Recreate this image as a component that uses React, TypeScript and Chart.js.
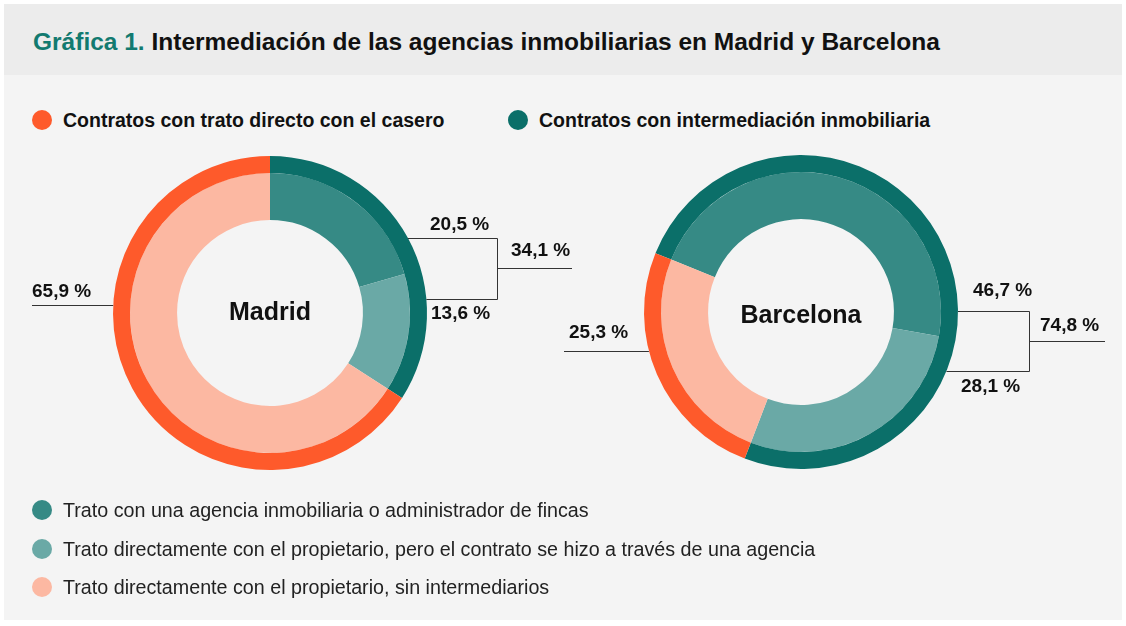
import React, { useEffect, useRef } from "react";
import { Chart, registerables } from "chart.js";

Chart.register(...registerables);

// ---- data ----
const cityNames = ["Madrid", "Barcelona"];
const groupLabels = ["Contratos con intermediación inmobiliaria", "Contratos con trato directo con el casero"];
const detailLabels = [
  "Trato con una agencia inmobiliaria o administrador de fincas",
  "Trato directamente con el propietario, pero el contrato se hizo a través de una agencia",
  "Trato directamente con el propietario, sin intermediarios",
];
const madridGroups = [34.1, 65.9];
const madridDetail = [20.5, 13.6, 65.9];
const barcelonaGroups = [74.8, 25.3];
const barcelonaDetail = [46.7, 28.1, 25.3];

// ---- style ----
const groupColors = ["#0b6f69", "#fe5a2b"];
const detailColors = ["#368a85", "#6aa9a6", "#fcb8a2"];
const FONT = "'Liberation Sans', Arial, Helvetica, sans-serif";
const W = 1126;
const H = 626;

const madridLayout = {
  cx: 270, cy: 313, r: 157, rotation: 0, nameDy: 0,
  bracket: { x: 227, top: -75, bottom: -14, mid: -45, end: 302 },
  topLabel: { dx: 160, dy: -88 }, bottomLabel: { dx: 161, dy: 1 }, totalLabel: { dx: 241, dy: -62 },
  other: { lineDy: -8, lineX: -238, labelDx: -238, labelDy: -21 },
};
const barcelonaLayout = {
  cx: 801, cy: 312, r: 157, rotation: -68, nameDy: 4,
  bracket: { x: 228, top: -1, bottom: 59, mid: 29, end: 304 },
  topLabel: { dx: 172, dy: -21 }, bottomLabel: { dx: 160, dy: 75 }, totalLabel: { dx: 239, dy: 14 },
  other: { lineDy: 39, lineX: -237, labelDx: -232, labelDy: 21 },
};

const fmt = (v: number) => v.toFixed(1).replace(".", ",") + " %";

function Donut({ name, groups, detail, layout }: any) {
  const ref = useRef<HTMLCanvasElement>(null);
  useEffect(() => {
    const canvas = ref.current!;
    const annot = {
      id: "annot",
      afterDatasetsDraw(chart: any) {
        const ctx = chart.ctx;
        const arc = chart.getDatasetMeta(0).data[0];
        const cx = arc.x, cy = arc.y, R = arc.outerRadius;
        const ringX = (dy: number, side: number) => cx + side * Math.sqrt(Math.max(R * R - dy * dy, 0));
        ctx.save();
        ctx.fillStyle = "#111";
        ctx.textBaseline = "middle";
        ctx.textAlign = "center";
        ctx.font = `bold 25px ${FONT}`;
        ctx.fillText(name, cx, cy + layout.nameDy);
        // leader lines
        ctx.strokeStyle = "#333";
        ctx.lineWidth = 1;
        const b = layout.bracket;
        ctx.beginPath();
        ctx.moveTo(ringX(b.top, 1), cy + b.top + 0.5);
        ctx.lineTo(cx + b.x + 0.5, cy + b.top + 0.5);
        ctx.lineTo(cx + b.x + 0.5, cy + b.bottom + 0.5);
        ctx.lineTo(ringX(b.bottom, 1), cy + b.bottom + 0.5);
        ctx.moveTo(cx + b.x, cy + b.mid + 0.5);
        ctx.lineTo(cx + b.end, cy + b.mid + 0.5);
        const o = layout.other;
        ctx.moveTo(cx + o.lineX, cy + o.lineDy + 0.5);
        ctx.lineTo(ringX(o.lineDy, -1), cy + o.lineDy + 0.5);
        ctx.stroke();
        // labels
        ctx.textAlign = "left";
        ctx.font = `bold 19px ${FONT}`;
        ctx.fillText(fmt(detail[0]), cx + layout.topLabel.dx, cy + layout.topLabel.dy);
        ctx.fillText(fmt(detail[1]), cx + layout.bottomLabel.dx, cy + layout.bottomLabel.dy);
        ctx.fillText(fmt(groups[0]), cx + layout.totalLabel.dx, cy + layout.totalLabel.dy);
        ctx.fillText(fmt(groups[1]), cx + o.labelDx, cy + o.labelDy);
        ctx.restore();
      },
    };
    const chart = new Chart(canvas, {
      type: "doughnut",
      data: {
        labels: detailLabels,
        datasets: [
          { label: "grupos", data: groups, backgroundColor: groupColors, borderWidth: 0, weight: 17 } as any,
          { label: "detalle", data: detail, backgroundColor: detailColors, borderWidth: 0, weight: 47 } as any,
        ],
      },
      options: {
        responsive: false,
        animation: false,
        cutout: "59.2%",
        rotation: layout.rotation,
        layout: {
          padding: {
            left: layout.cx - layout.r,
            top: layout.cy - layout.r,
            right: W - layout.cx - layout.r,
            bottom: H - layout.cy - layout.r,
          },
        },
        plugins: { legend: { display: false }, tooltip: { enabled: false }, title: { display: false } },
        events: [],
      },
      plugins: [annot],
    });
    return () => chart.destroy();
  }, []);
  return <canvas ref={ref} width={W} height={H} style={{ position: "absolute", left: 0, top: 0 }} />;
}

const dot = (x: number, y: number, color: string) => (
  <div style={{ position: "absolute", left: x - 10, top: y - 10, width: 20, height: 20, borderRadius: "50%", background: color }} />
);

const text = (x: number, y: number, s: string, size: number, weight: number, color = "#111") => (
  <div style={{ position: "absolute", left: x, top: y - 15, height: 30, lineHeight: "30px", fontSize: size, fontWeight: weight, color, whiteSpace: "nowrap", fontFamily: FONT }}>{s}</div>
);

export default function App() {
  return (
    <div style={{ position: "absolute", left: 0, top: 0, width: W, height: H, background: "#fff", overflow: "hidden", fontFamily: FONT }}>
      <div style={{ position: "absolute", left: 4, top: 4, width: 1118, height: 616, background: "#f4f4f4" }} />
      <div style={{ position: "absolute", left: 4, top: 4, width: 1118, height: 71, background: "#ececec" }} />
      <div style={{ position: "absolute", left: 33, top: 26, height: 32, lineHeight: "32px", fontSize: 24.5, fontWeight: 700, color: "#111", whiteSpace: "nowrap" }}>
        <span style={{ color: "#127a70" }}>Gráfica 1.</span> Intermediación de las agencias inmobiliarias en Madrid y Barcelona
      </div>
      {dot(42, 120, groupColors[1])}
      {text(63, 120, groupLabels[1], 19.5, 700)}
      {dot(518, 120, groupColors[0])}
      {text(539, 120, groupLabels[0], 19.5, 700)}
      <Donut name={cityNames[0]} groups={madridGroups} detail={madridDetail} layout={madridLayout} />
      <Donut name={cityNames[1]} groups={barcelonaGroups} detail={barcelonaDetail} layout={barcelonaLayout} />
      {dot(42, 510, detailColors[0])}
      {text(63, 510, detailLabels[0], 19.7, 400, "#222")}
      {dot(42, 549, detailColors[1])}
      {text(63, 549, detailLabels[1], 19.7, 400, "#222")}
      {dot(42, 587, detailColors[2])}
      {text(63, 587, detailLabels[2], 19.7, 400, "#222")}
    </div>
  );
}
